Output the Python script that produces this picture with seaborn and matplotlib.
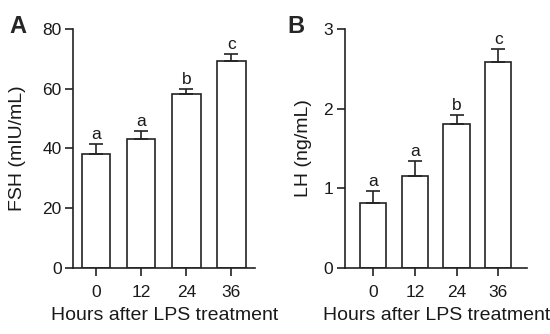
import numpy as np
import pandas as pd
import seaborn as sns
import matplotlib.pyplot as plt

# data
hours = ['0', '12', '24', '36']
fsh_mean = [38.0, 43.1, 58.2, 69.3]
fsh_err = [3.6, 2.7, 1.6, 2.4]
fsh_letters = ['a', 'a', 'b', 'c']
lh_mean = [0.82, 1.155, 1.81, 2.58]
lh_err = [0.15, 0.185, 0.11, 0.17]
lh_letters = ['a', 'a', 'b', 'c']

sns.set_style('ticks')
plt.rcParams['font.family'] = ['Liberation Sans', 'DejaVu Sans']
plt.rcParams['axes.linewidth'] = 1.2

fig = plt.figure(figsize=(5.5, 3.34), dpi=100)
ax_a = fig.add_axes([0.1333, 0.1976, 0.3303, 0.7156])
ax_b = fig.add_axes([0.6273, 0.1976, 0.3315, 0.7156])


def draw_panel(ax, means, errs, letters, ylabel, ymax, yticks, xlim, ylabelpad):
    df = pd.DataFrame({'hours': hours, 'value': means})
    sns.barplot(data=df, x='hours', y='value', ax=ax, color='white',
                edgecolor='#222222', linewidth=1.2, width=0.63)
    x = np.arange(len(means))
    ax.errorbar(x, means, yerr=[np.zeros(len(errs)), errs], fmt='none',
                ecolor='#222222', elinewidth=1.2, capsize=5.2, capthick=1.2)
    for xi, m, e, t in zip(x, means, errs, letters):
        ax.annotate(t, (xi, m + e), xytext=(0, 1.5), textcoords='offset points',
                    ha='center', va='bottom', fontsize=12.5, color='#1a1a1a')
    ax.set_ylim(0, ymax)
    ax.set_yticks(yticks)
    ax.set_xlim(*xlim)
    ax.set_xlabel('Hours after LPS treatment', fontsize=14, labelpad=5, color='#1a1a1a')
    ax.set_ylabel(ylabel, fontsize=14, labelpad=ylabelpad, color='#1a1a1a')
    ax.tick_params(labelsize=12.5, length=5.5, width=1.2, colors='#222222',
                   labelcolor='#1a1a1a')
    ax.tick_params(axis='x', pad=7)
    ax.tick_params(axis='y', pad=3)
    for s in ['left', 'bottom']:
        ax.spines[s].set_color('#222222')
    sns.despine(ax=ax)


draw_panel(ax_a, fsh_mean, fsh_err, fsh_letters, 'FSH (mIU/mL)', 80,
           [0, 20, 40, 60, 80], (-0.5, 3.52), 12)
draw_panel(ax_b, lh_mean, lh_err, lh_letters, 'LH (ng/mL)', 3,
           [0, 1, 2, 3], (-0.68, 3.7), 8)

fig.text(0.018, 0.955, 'A', fontsize=17, fontweight='bold', va='top', ha='left')
fig.text(0.522, 0.955, 'B', fontsize=17, fontweight='bold', va='top', ha='left')

fig.savefig('out.png', dpi=100)
